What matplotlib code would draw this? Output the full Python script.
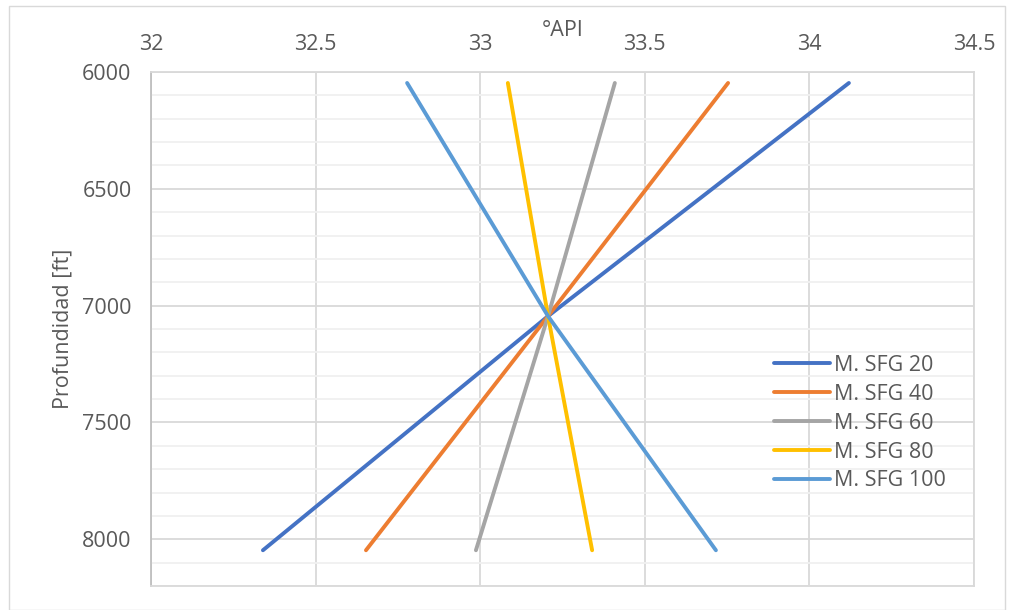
import matplotlib
matplotlib.use("Agg")
from matplotlib import pyplot as plt
from matplotlib.ticker import MultipleLocator
from matplotlib.patches import Rectangle

plt.rcParams["font.family"] = ["Open Sans", "DejaVu Sans"]

labels = ["M. SFG 20", "M. SFG 40", "M. SFG 60", "M. SFG 80", "M. SFG 100"]
colors = ["#4472C4", "#ED7D31", "#A5A5A5", "#FFC000", "#5B9BD5"]
depth = [6047, 7045, 8047]
api_sfg20 = [34.12, 33.206, 32.34]
api_sfg40 = [33.753, 33.206, 32.653]
api_sfg60 = [33.409, 33.206, 32.987]
api_sfg80 = [33.084, 33.206, 33.34]
api_sfg100 = [32.778, 33.206, 33.716]
series = [api_sfg20, api_sfg40, api_sfg60, api_sfg80, api_sfg100]

txt = "#595959"
fs = 15.5
fig = plt.figure(figsize=(10.14, 6.10), dpi=100)
fig.patches.append(Rectangle((9 / 1014, 0), 1 - 18 / 1014, 1 - 6 / 610, transform=fig.transFigure,
                             fill=False, edgecolor="#D9D9D9", linewidth=1))
ax = fig.add_axes([151 / 1014, 1 - 586 / 610, (974 - 151) / 1014, (586 - 72) / 610])

for vals, lab, col in zip(series, labels, colors):
    ax.plot(vals, depth, color=col, linewidth=2.8, label=lab, solid_capstyle="round")

ax.set_xlim(32, 34.5)
ax.set_ylim(8200, 6000)
ax.yaxis.set_major_locator(MultipleLocator(500))
ax.yaxis.set_minor_locator(MultipleLocator(100))
ax.xaxis.tick_top()
ax.xaxis.set_label_position("top")
ax.set_xticks([32, 32.5, 33, 33.5, 34, 34.5])
ax.set_xticklabels(["32", "32.5", "33", "33.5", "34", "34.5"])

ax.grid(True, which="major", color="#D9D9D9", linewidth=1.3)
ax.grid(True, which="minor", axis="y", color="#F0F0F0", linewidth=1.3)
ax.set_axisbelow(True)
for s in ["top", "right", "bottom"]:
    ax.spines[s].set_color("#D9D9D9")
    ax.spines[s].set_linewidth(1.3)
ax.spines["left"].set_color("#BFBFBF")
ax.spines["left"].set_linewidth(1.3)

ax.tick_params(axis="both", which="both", length=0, labelsize=fs, colors=txt)
ax.tick_params(axis="x", pad=12)
ax.tick_params(axis="y", pad=14)

ax.set_xlabel("°API", fontsize=fs, color=txt)
ax.xaxis.set_label_coords((563 - 151) / 823, 1 + (72 - 36) / 514)
ax.set_ylabel("Profundidad [ft]", fontsize=fs, color=txt)
ax.yaxis.set_label_coords(-(151 - 73) / 823, 0.5)

leg = ax.legend(loc="upper left", bbox_to_anchor=((765 - 151) / 823, (586 - 346) / 514), frameon=False,
                fontsize=fs, handlelength=2.6, handletextpad=0.2, labelspacing=0.37, borderaxespad=0)
for t in leg.get_texts():
    t.set_color(txt)

fig.savefig("out.png", dpi=100)
